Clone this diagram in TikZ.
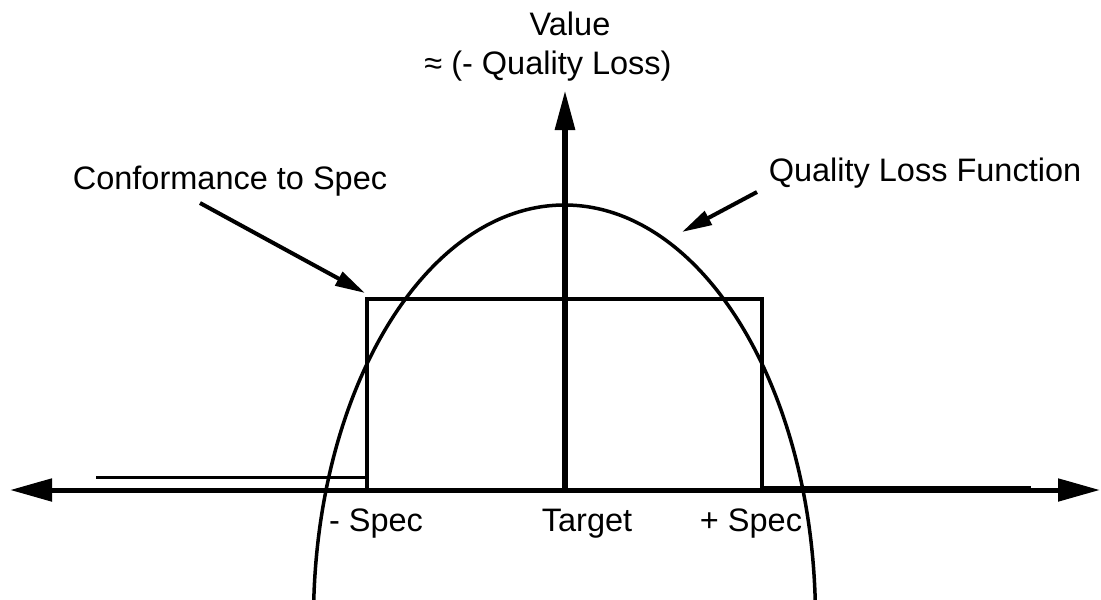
\documentclass[tikz,border=0pt]{standalone}
\usepackage{fontspec}
\setmainfont{Liberation Sans}
\usetikzlibrary{arrows.meta}
\begin{document}
\begin{tikzpicture}[x=1pt,y=-1pt,
  lbl/.style={inner sep=0pt,anchor=base,font=\fontsize{32.5}{38}\selectfont},
  axis/.style={line width=5pt,-{Triangle[length=42pt,width=22pt]}},
  bigtip/.style={line width=4pt,-{Triangle[length=30pt,width=15pt]}},
  specline/.style={line width=4pt},
  sideline/.style={line width=3pt},
  curve/.style={line width=3.5pt}]
\useasboundingbox (0,0) rectangle (1101,600);
% coordinates
\coordinate (o) at (565,490);
\coordinate (xl) at (10,490);
\coordinate (xr) at (1100,490);
\coordinate (yt) at (565,90);
\coordinate (bl) at (367,490);
\coordinate (tl) at (367,299);
\coordinate (tr) at (762,299);
\coordinate (br) at (762,490);
\coordinate (ll) at (96,477);
\coordinate (lr) at (367,477);
\coordinate (rl) at (762,487);
\coordinate (rr) at (1031,487);
\coordinate (cs) at (200,203);
\coordinate (ct) at (365,293);
\coordinate (qs) at (757,192);
\coordinate (qt) at (682,232);
% labels
\node[lbl] (value) at (570,35) {Value};
\node[lbl] (ql) at (548,74) {≈ (- Quality Loss)};
\node[lbl] (conf) at (230,189) {Conformance to Spec};
\node[lbl] (qlf) at (925,181) {Quality Loss Function};
\node[lbl] (mspec) at (376,531) {- Spec};
\node[lbl] (target) at (587,531) {Target};
\node[lbl] (pspec) at (751,531) {+ Spec};
% quality loss curve
\begin{scope}
\clip (0,0) rectangle (1101,600);
\draw[curve] (564.5,620) ellipse [x radius=251, y radius=415];
\end{scope}
% spec rectangle and side lines
\draw[specline] (bl) -- (tl) -- (tr) -- (br);
\draw[sideline] (ll) -- (lr);
\draw[sideline] (rl) -- (rr);
% axes
\draw[axis] (o) -- (xl);
\draw[axis] (o) -- (xr);
\draw[line width=6pt,-{Triangle[length=40pt,width=19pt]}] (o) -- (yt);
% pointer arrows
\draw[bigtip] (cs) -- (ct);
\draw[bigtip] (qs) -- (qt);
\end{tikzpicture}
\end{document}
